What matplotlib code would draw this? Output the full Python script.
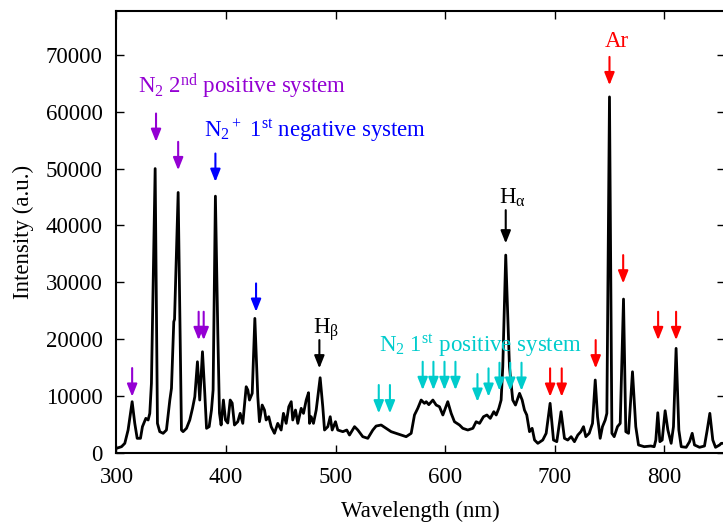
#!/usr/bin/env python3
import matplotlib

matplotlib.use("Agg")
import matplotlib.pyplot as plt

# emission spectrum, traced as (wavelength nm, intensity a.u.) vertices
wavelength = [
    300.0, 304.6, 307.6, 310.6, 314.3, 316.7, 318.9, 321.9, 323.7, 326.8,
    328.9, 330.4, 331.9, 335.3, 337.4, 339.5, 342.6, 345.6, 348.7, 350.2,
    352.3, 353.0, 356.3, 359.3, 360.8, 363.9, 366.9, 369.4, 371.5, 373.9,
    376.0, 378.5, 380.6, 382.2, 384.6, 386.7, 388.2, 390.3, 392.5, 394.0,
    395.5, 397.6, 399.5, 401.6, 403.8, 405.6, 407.7, 410.7, 412.9, 415.3,
    418.4, 419.9, 421.4, 423.9, 426.3, 429.0, 430.5, 433.0, 435.1, 436.6,
    439.0, 441.2, 444.2, 447.2, 450.3, 452.4, 454.9, 457.3, 459.5, 460.9,
    463.4, 465.5, 468.6, 470.7, 473.2, 475.3, 476.2, 477.7, 479.8, 482.3,
    485.9, 488.3, 489.9, 492.9, 495.1, 496.9, 499.9, 502.0, 506.6, 510.2,
    512.7, 517.3, 520.3, 524.8, 529.4, 534.0, 537.0, 541.6, 546.2, 550.7,
    555.3, 559.9, 564.4, 569.0, 572.0, 575.0, 578.1, 581.1, 582.7, 585.1,
    588.8, 591.8, 594.8, 597.9, 602.4, 605.5, 608.5, 613.1, 616.1, 620.7,
    625.3, 628.3, 631.4, 635.0, 638.1, 641.2, 644.4, 646.6, 649.0, 651.1,
    652.6, 655.3, 658.7, 661.7, 664.2, 667.9, 670.3, 672.4, 674.5, 677.0,
    679.4, 681.6, 684.6, 689.1, 692.2, 695.8, 698.9, 701.9, 705.8, 708.9,
    711.9, 715.0, 718.0, 721.1, 723.9, 726.3, 728.4, 731.5, 734.5, 737.0,
    739.1, 741.5, 743.6, 746.1, 747.6, 750.0, 752.2, 754.3, 757.3, 759.8,
    762.8, 764.9, 767.4, 771.0, 774.0, 776.5, 781.7, 787.7, 790.8, 792.3,
    794.1, 796.0, 798.1, 800.8, 803.3, 806.3, 808.4, 810.8, 813.3, 815.5,
    820.0, 823.1, 825.5, 827.6, 832.2, 836.7, 839.2, 841.6, 844.3, 846.8,
    850.5, 852.0, 855.0,
]
intensity = [
    820, 1110, 1700, 4040, 9020, 5210, 2580, 2580, 4630, 6090,
    5800, 6970, 12240, 50000, 5210, 3750, 3460, 4040, 9310, 11370,
    23070, 23500, 45800, 4040, 3750, 4340, 5800, 7850, 9890, 16040,
    9310, 17800, 10490, 4340, 4630, 7550, 11070, 45150, 21080, 7020,
    4920, 9310, 5800, 5270, 9310, 8780, 4920, 5500, 6970, 5210,
    11650, 11070, 9310, 10490, 23660, 9890, 5500, 8430, 7550, 5800,
    6380, 4630, 3460, 5210, 4040, 6970, 5210, 8140, 9020, 5800,
    7550, 5210, 7850, 6970, 9310, 10600, 5210, 6380, 5210, 7550,
    13230, 8140, 4040, 4630, 6380, 4040, 5500, 4040, 3750, 4040,
    3160, 4630, 4040, 2870, 2580, 4040, 4740, 4920, 4340, 3750,
    3460, 3160, 2870, 3460, 6680, 7850, 9310, 8730, 9020, 8500,
    9310, 8430, 8140, 6680, 9020, 6970, 5500, 4920, 4340, 4040,
    4340, 5500, 5210, 6380, 6680, 6090, 7260, 6680, 7850, 9310,
    15160, 34790, 15160, 9310, 8430, 10490, 9310, 7550, 6680, 3750,
    4340, 2280, 1700, 2280, 3460, 8730, 2280, 1990, 7260, 2580,
    2280, 2870, 1990, 3160, 3750, 4630, 2870, 3460, 5210, 12830,
    6380, 2580, 4630, 5800, 6970, 62600, 3460, 2870, 4630, 5210,
    27060, 3750, 3460, 14280, 4630, 1410, 1110, 1230, 1110, 2280,
    7080, 1990, 2280, 7430, 4040, 1700, 4630, 18390, 4040, 1110,
    1000, 1990, 3460, 1410, 1000, 1230, 4040, 6970, 2280, 1000,
    1410, 1700, 1700,
]

# marked lines: (wavelength, arrow start, arrow tip)
n2_second_pos = [(314.3, 14930, 9900), (336.1, 59680, 54700), (356.3, 54700, 49720),
                 (375.0, 24830, 19850), (379.6, 24830, 19850)]
n2_plus_first_neg = [(390.3, 52650, 47670), (427.4, 29810, 24830)]
hydrogen = [(485.2, 19850, 14880), (655.3, 42690, 36850)]
n2_first_pos = [(539.4, 11950, 6970), (549.6, 11950, 6970),
                (579.5, 16040, 11070), (589.3, 16040, 11070),
                (599.4, 16040, 11070), (609.4, 16040, 11070),
                (629.5, 13880, 9010), (639.6, 14880, 9890),
                (649.6, 15870, 10950), (659.4, 15870, 10950), (669.7, 15870, 10950)]
argon = [(695.8, 14880, 9890), (706.4, 14880, 9890), (737.4, 19850, 14880),
         (750.0, 69630, 64660), (762.5, 34790, 29810),
         (794.4, 24830, 19850), (810.8, 24830, 19850)]

x_ticks = [300, 400, 500, 600, 700, 800]
y_ticks = [0, 10000, 20000, 30000, 40000, 50000, 60000, 70000]

PURPLE = "#9400d3"
BLUE = "#0000ff"
CYAN = "#00cccc"
RED = "#ff0000"


def draw_arrows(ax, lines, color):
    for wl, start, tip in lines:
        ax.annotate(
            "", xy=(wl, tip), xytext=(wl, start),
            arrowprops=dict(arrowstyle="-|>,head_length=0.75,head_width=0.3",
                            color=color, lw=1.5, mutation_scale=10,
                            shrinkA=0, shrinkB=0),
        )


def main() -> None:
    plt.rcParams["font.family"] = ["Liberation Serif", "DejaVu Serif"]
    plt.rcParams["mathtext.fontset"] = "custom"
    plt.rcParams["mathtext.rm"] = "Liberation Serif"
    plt.rcParams["mathtext.it"] = "Liberation Serif:italic"
    plt.rcParams["font.size"] = 16.5

    fig = plt.figure(figsize=(7.23, 5.24), dpi=100)
    ax = fig.add_axes([0.1611, 0.1355, 0.841, 0.8435])
    ax.plot(wavelength, intensity, color="black", lw=2.0)

    draw_arrows(ax, n2_second_pos, PURPLE)
    draw_arrows(ax, n2_plus_first_neg, BLUE)
    draw_arrows(ax, hydrogen, "black")
    draw_arrows(ax, n2_first_pos, CYAN)
    draw_arrows(ax, argon, RED)

    ax.text(319.2, 63200, r"N$_2$ 2$^{\mathrm{nd}}$ positive system", color=PURPLE, va="baseline")
    ax.text(380.3, 55470, r"N$_2$$^+$ 1$^{\mathrm{st}}$ negative system", color=BLUE, va="baseline")
    ax.text(479.8, 21030, r"H$_\mathrm{β}$", color="black", va="baseline")
    ax.text(539.4, 17800, r"N$_2$ 1$^{\mathrm{st}}$ positive system", color=CYAN, va="baseline")
    ax.text(649.6, 43750, r"H$_\mathrm{α}$", color="black", va="baseline")
    ax.text(745.4, 71390, "Ar", color=RED, va="baseline")

    ax.set_xlim(300, 855)
    ax.set_ylim(0, 77700)
    ax.set_xticks(x_ticks)
    ax.set_yticks(y_ticks)
    ax.tick_params(direction="in", top=True, right=True, length=6, width=1)
    ax.tick_params(axis="x", pad=10)
    ax.tick_params(axis="y", pad=10)
    for spine in ax.spines.values():
        spine.set_linewidth(1.5)
    ax.set_xlabel("Wavelength (nm)", labelpad=9)
    ax.set_ylabel("Intensity (a.u.)", labelpad=8)

    fig.savefig("out.png", dpi=100)
    plt.close(fig)


if __name__ == "__main__":
    main()
